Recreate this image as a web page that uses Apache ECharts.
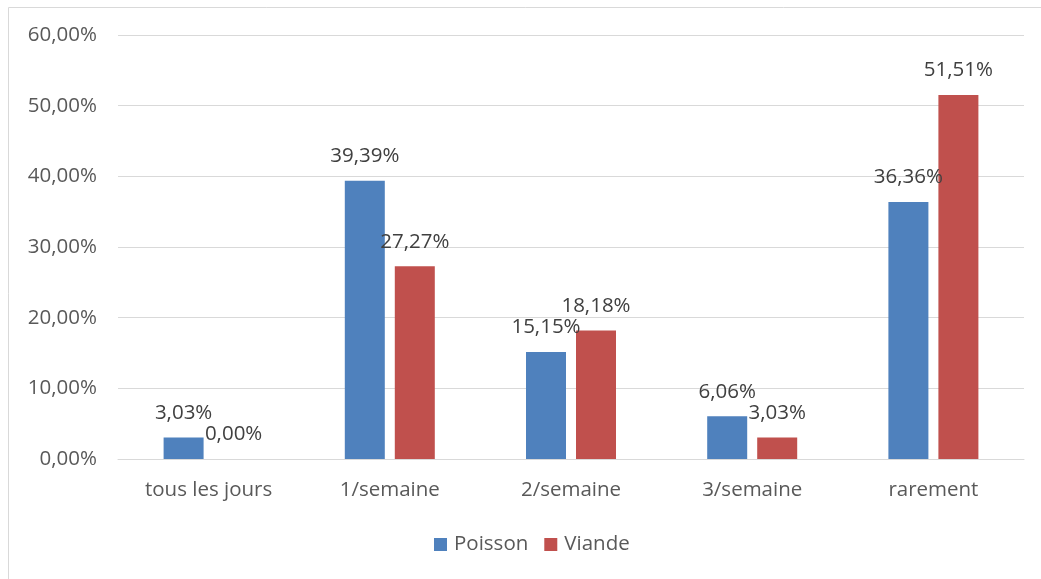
<!DOCTYPE html>
<html>
<head>
<meta charset="utf-8">
<script src="https://cdn.jsdelivr.net/npm/echarts@6/dist/echarts.min.js"></script>
<style>
  html, body { margin: 0; padding: 0; background: #fff; }
  #chart { width: 1041px; height: 579px; }
</style>
</head>
<body>
<div id="chart"></div>
<script>
// Fréquence de consommation (en %)
const categories = ['tous les jours', '1/semaine', '2/semaine', '3/semaine', 'rarement'];
const poisson = [3.03, 39.39, 15.15, 6.06, 36.36];
const viande = [0.00, 27.27, 18.18, 3.03, 51.51];

const fmt = v => v.toFixed(2).replace('.', ',') + '%';
const FONT = '"Open Sans", sans-serif';
const FS = 20.5;

const chart = echarts.init(document.getElementById('chart'));
chart.setOption({
  animation: false,
  textStyle: { fontFamily: FONT },
  graphic: [{
    type: 'rect',
    shape: { x: 8.5, y: 7.5, width: 1040, height: 580 },
    style: { fill: 'none', stroke: '#d9d9d9', lineWidth: 1 }
  }],
  grid: { left: 118, right: 17, top: 35, bottom: 120 },
  legend: {
    bottom: 24,
    left: 434,
    itemWidth: 13,
    itemHeight: 13,
    itemGap: 16,
    icon: 'rect',
    padding: 0,
    textStyle: { fontSize: FS, color: '#595959', fontFamily: FONT, padding: [0, 0, 0, 2] },
    data: ['Poisson', 'Viande']
  },
  xAxis: {
    type: 'category',
    data: categories,
    axisLine: { lineStyle: { color: '#d9d9d9' } },
    axisTick: { show: false },
    axisLabel: { fontSize: FS, color: '#595959', margin: 21, fontFamily: FONT }
  },
  yAxis: {
    type: 'value',
    min: 0,
    max: 60,
    interval: 10,
    axisLine: { show: false },
    axisTick: { show: false },
    splitLine: { lineStyle: { color: '#d9d9d9' } },
    axisLabel: { fontSize: FS, color: '#595959', margin: 21, fontFamily: FONT, formatter: v => fmt(v) }
  },
  series: [
    {
      name: 'Poisson',
      type: 'bar',
      data: poisson,
      barWidth: 40,
      barGap: '25%',
      itemStyle: { color: '#4f81bd' },
      label: { show: true, position: 'top', distance: 14, fontSize: FS, color: '#404040', fontFamily: FONT, formatter: p => fmt(p.value) }
    },
    {
      name: 'Viande',
      type: 'bar',
      data: viande,
      barWidth: 40,
      itemStyle: { color: '#c0504d' },
      label: { show: true, position: 'top', distance: 14, fontSize: FS, color: '#404040', fontFamily: FONT, formatter: p => fmt(p.value) }
    }
  ]
});
</script>
</body>
</html>
